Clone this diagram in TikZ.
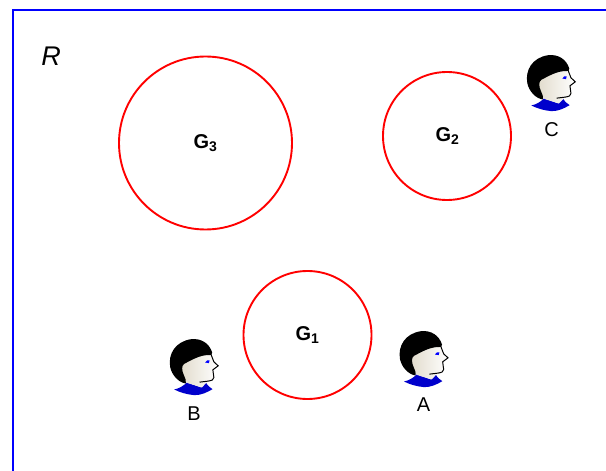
\documentclass[tikz,border=0pt]{standalone}
\usepackage{fontspec}
\setmainfont{Liberation Sans}
\definecolor{facetone}{RGB}{226,220,205}
\begin{document}
\begin{tikzpicture}[x=1bp,y=-1bp,
  gcircle/.style={draw=red,line width=1.9bp,fill=white},
  glabel/.style={font=\fontsize{20bp}{22bp}\selectfont\bfseries,inner sep=0pt},
  plabel/.style={font=\fontsize{20bp}{22bp}\selectfont,inner sep=0pt},
  pics/head/.style={code={
    \begin{scope}[x=0.3333bp,y=-0.3333bp]
      % collar
      \fill[blue!80!black] (27,171) .. controls (42,168) and (55,160) .. (65,150)
        -- (108,165) -- (122,150) .. controls (128,160) and (135,166) .. (142,170)
        .. controls (125,180) and (108,188) .. (88,188) .. controls (65,186) and (45,180) .. (27,171) -- cycle;
      % face
      \shade[left color=facetone,right color=white]
        (48,96) .. controls (80,80) and (110,62) .. (136,62)
        -- (146,88) -- (159,100) -- (143,112) -- (146,135)
        .. controls (146,142) and (140,144) .. (128,146)
        -- (110,165) -- (68,152) -- (55,140) -- cycle;
      \draw[black,line width=1bp] (136,62) -- (146,88) -- (159,100) -- (143,112) -- (146,135)
        .. controls (146,142) and (140,144) .. (128,146) -- (103,149);
      % hair
      \fill[black] (78,20) .. controls (108,17) and (132,32) .. (141,60)
        .. controls (141,66) and (138,68) .. (132,68)
        .. controls (105,66) and (75,85) .. (57,94)
        .. controls (48,100) and (50,115) .. (56,128)
        .. controls (60,136) and (64,146) .. (62,153)
        .. controls (40,150) and (20,128) .. (15,104)
        .. controls (8,65) and (30,27) .. (78,20) -- cycle;
      % eye
      \fill[blue] (120,90) .. controls (123,84) and (128,82) .. (133,84)
        -- (131,92) .. controls (128,90) and (124,90) .. (120,90) -- cycle;
    \end{scope}
  }}]
\useasboundingbox (0,0) rectangle (606,471);
\fill[white] (0,0) rectangle (606,471);
\coordinate (frameTR) at (606,10.5);
\coordinate (frameTL) at (12.5,10.5);
\coordinate (frameBL) at (12.5,471);
\draw[blue,line width=2bp] (frameTR) -- (frameTL) -- (frameBL);
\node[font=\fontsize{27bp}{30bp}\selectfont\itshape,inner sep=0pt] (r) at (51,56) {R};
\node[gcircle,circle,minimum size=173bp,inner sep=0pt] (g3) at (205.5,143) {};
\node[gcircle,circle,minimum size=128bp,inner sep=0pt] (g2) at (447,136) {};
\node[gcircle,circle,minimum size=128bp,inner sep=0pt] (g1) at (307.5,335) {};
\node[glabel] (g3t) at (205.5,143) {G\textsubscript{3}};
\node[glabel] (g2t) at (447.5,136) {G\textsubscript{2}};
\node[glabel] (g1t) at (307.5,335) {G\textsubscript{1}};
\pic (hc) at (522.3,48.5) {head};
\pic (hb) at (165.2,332.5) {head};
\pic (ha) at (395,324.5) {head};
\node[plabel] (c) at (551.5,130) {C};
\node[plabel] (a) at (423.5,405) {A};
\node[plabel] (b) at (194,414) {B};
\end{tikzpicture}
\end{document}
